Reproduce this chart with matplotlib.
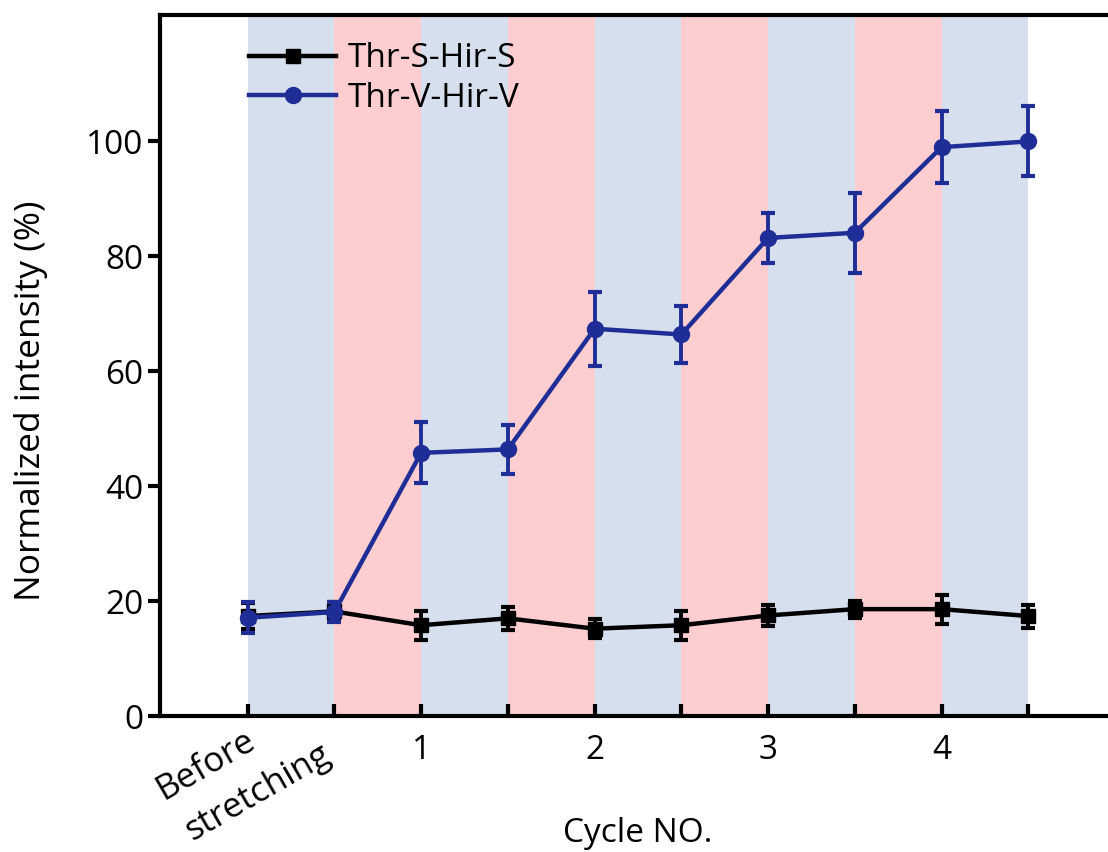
import matplotlib
matplotlib.use("Agg")
import matplotlib.pyplot as plt
import matplotlib.transforms as mtransforms
from matplotlib.lines import Line2D
import numpy as np

plt.rcParams['font.family'] = ['Open Sans', 'DejaVu Sans']

# measurement points (before stretching, then stretch/release of cycles 1-4)
points = np.arange(10)
tick_pos = [2, 4, 6, 8]
tick_labels = ['1', '2', '3', '4']

# Thr-S-Hir-S
s_mean = [17.4, 18.2, 15.8, 17.0, 15.2, 15.8, 17.5, 18.6, 18.6, 17.4]
s_err = [2.2, 1.7, 2.5, 2.0, 1.6, 2.5, 1.9, 1.5, 2.5, 2.0]

# Thr-V-Hir-V
v_mean = [17.1, 18.1, 45.8, 46.4, 67.4, 66.4, 83.2, 84.1, 99.0, 100.0]
v_err = [2.7, 1.8, 5.3, 4.3, 6.4, 4.9, 4.3, 7.0, 6.3, 6.1]

band_colors = ['#d5dfee', '#fdcdd0']
s_color = 'black'
v_color = '#1f2e96'

fig = plt.figure(figsize=(11.08, 8.52), dpi=100)
ax = fig.add_axes([0.1444, 0.1596, 0.862, 0.8228])

# alternating background bands between consecutive points
for i in range(len(points) - 1):
    ax.axvspan(points[i], points[i + 1], color=band_colors[i % 2], lw=0, zorder=0)

ax.errorbar(points, s_mean, yerr=s_err, color=s_color, marker='s', ms=9.5,
            lw=3.2, elinewidth=2.8, capsize=4.8, capthick=3.0, zorder=3)
ax.errorbar(points, v_mean, yerr=v_err, color=v_color, marker='o', ms=11.5,
            lw=3.2, elinewidth=2.8, capsize=4.8, capthick=3.0, zorder=4)

ax.set_xlim(-1.01, 10.0)
ax.set_ylim(0, 122)

ax.set_xticks(points)
ax.set_xticklabels(['' if p not in tick_pos else tick_labels[tick_pos.index(p)]
                    for p in points])
ax.set_yticks([0, 20, 40, 60, 80, 100])

ax.tick_params(axis='x', direction='in', length=9, width=3, labelsize=24, pad=13)
ax.tick_params(axis='y', direction='out', length=9, width=3, labelsize=24, pad=3)

for side in ['left', 'bottom', 'top', 'right']:
    ax.spines[side].set_linewidth(3)

# two-line rotated label for the first point
trans = mtransforms.blended_transform_factory(ax.transData, ax.transAxes)
ax.text(-0.97, -0.12, 'Before', rotation=30, rotation_mode='anchor',
        ha='left', va='baseline', fontsize=25, transform=trans, clip_on=False)
ax.text(-0.64, -0.178, 'stretching', rotation=30, rotation_mode='anchor',
        ha='left', va='baseline', fontsize=25, transform=trans, clip_on=False)

ax.set_xlabel('Cycle NO.', fontsize=24, labelpad=36)
ax.set_ylabel('Normalized intensity (%)', fontsize=25.5)
ax.yaxis.set_label_coords(-0.117, 0.45)

handles = [
    Line2D([], [], color=s_color, marker='s', ms=9.5, lw=3.2, label='Thr-S-Hir-S'),
    Line2D([], [], color=v_color, marker='o', ms=11.5, lw=3.2, label='Thr-V-Hir-V'),
]
ax.legend(handles=handles, loc='upper left', bbox_to_anchor=(0.076, 0.985),
          frameon=False, fontsize=24, handlelength=2.6, handletextpad=0.35,
          labelspacing=0.2, borderpad=0)

fig.savefig('out.png', dpi=100)
